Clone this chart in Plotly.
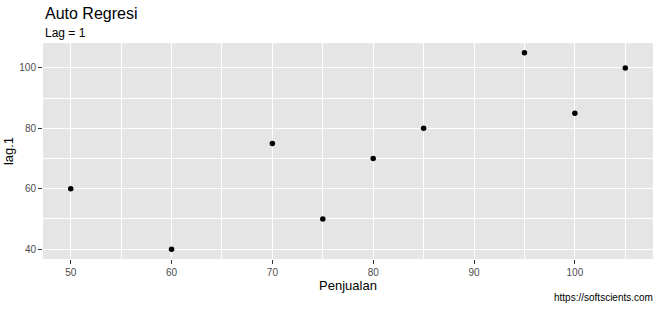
import plotly.graph_objects as go

penjualan = [50, 60, 70, 75, 80, 85, 95, 100, 105]
lag1 = [60, 40, 75, 50, 70, 80, 105, 85, 100]
x_ticks = [50, 60, 70, 80, 90, 100]
y_ticks = [40, 60, 80, 100]

FONT = "Liberation Sans, Arial, sans-serif"

fig = go.Figure(go.Scatter(
    x=penjualan, y=lag1, mode="markers",
    marker=dict(color="black", size=5.5, line=dict(width=0)),
    showlegend=False, hoverinfo="x+y"))

axis_common = dict(
    showline=False, zeroline=False, automargin=False,
    gridcolor="white", gridwidth=1.1,
    ticks="outside", ticklen=4, tickwidth=1.1, tickcolor="#333333",
    tickfont=dict(family=FONT, size=10, color="#4D4D4D"),
    minor=dict(showgrid=True, gridcolor="white", gridwidth=0.5, ticks=""),
)

fig.update_xaxes(
    range=[47.25, 107.75], tickvals=x_ticks,
    minor_tickvals=[55, 65, 75, 85, 95, 105],
    title=dict(text="Penjualan", font=dict(family=FONT, size=13, color="black"), standoff=1),
    **axis_common)
fig.update_yaxes(
    range=[36.75, 108.25], tickvals=y_ticks,
    minor_tickvals=[50, 70, 90],
    title=dict(text="lag.1", font=dict(family=FONT, size=13, color="black"), standoff=2),
    **axis_common)

fig.update_layout(
    width=660, height=310,
    margin=dict(l=43, r=7, t=43, b=51),
    plot_bgcolor="#E5E5E5", paper_bgcolor="white",
    font=dict(family=FONT),
    annotations=[
        dict(text="Auto Regresi", xref="paper", yref="paper", x=0, y=1,
             xanchor="left", yanchor="bottom", yshift=19, showarrow=False,
             font=dict(family=FONT, size=16, color="black")),
        dict(text="Lag = 1", xref="paper", yref="paper", x=0, y=1,
             xanchor="left", yanchor="bottom", yshift=1, showarrow=False,
             font=dict(family=FONT, size=12, color="black")),
        dict(text="https://softscients.com", xref="paper", yref="paper", x=1, y=0,
             xanchor="right", yanchor="top", yshift=-31, xshift=2, showarrow=False,
             font=dict(family=FONT, size=10, color="black")),
    ],
)

fig.write_html("out.html")
